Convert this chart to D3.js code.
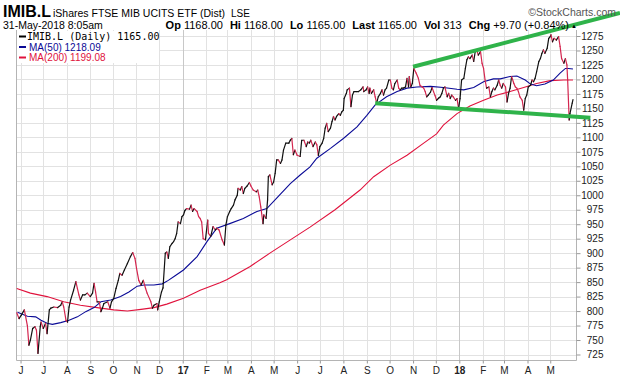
<!DOCTYPE html>
<html>
<head>
<meta charset="utf-8">
<script src="https://cdn.jsdelivr.net/npm/d3@7"></script>
<style>
  body { margin: 0; background: #fff; }
  svg { display: block; }
</style>
</head>
<body>
<svg id="chart" width="620" height="376"></svg>
<script>
// days are counted from startDate
var startDate = "2016-05-26";
var endDate = "2018-06-04";

// [day, close]
var closes = [
  [1,797],[4,787],[7,793],[11,802],[15,775],[17,741],[19,750],[22,770],[25,773],[27,767],
  [29,727],[32,773],[33,781],[36,770],[39,779],[41,761],[44,802],[46,805],[50,807],[55,806],
  [59,810],[61,816],[63,807],[66,784],[68,781],[70,807],[72,819],[76,836],[79,851],[81,839],
  [83,828],[85,819],[88,828],[91,828],[94,831],[98,825],[101,831],[103,848],[105,833],[107,816],
  [110,816],[112,799],[114,805],[116,813],[121,816],[124,805],[126,816],[129,822],[132,839],[135,853],
  [137,865],[140,862],[143,871],[147,882],[151,894],[154,901],[157,891],[159,874],[162,853],[165,845],
  [168,853],[171,839],[173,831],[178,816],[180,805],[182,810],[186,813],[187,802],[189,816],[192,833],
  [194,840],[197,900],[199,902],[201,891],[203,911],[206,917],[208,920],[210,925],[212,934],[214,954],
  [217,951],[219,963],[221,966],[223,974],[225,977],[229,976],[231,983],[233,972],[235,977],[239,972],
  [241,963],[243,960],[245,954],[247,925],[250,923],[253,957],[254,934],[257,929],[260,946],[263,940],
  [265,943],[268,940],[272,923],[275,914],[277,949],[279,963],[282,972],[284,977],[287,983],[289,992],
  [292,1000],[293,1012],[296,1009],[298,1015],[300,1003],[302,1012],[305,1016],[308,1022],[310,1016],[313,1009],
  [317,1006],[319,1009],[321,997],[323,980],[326,951],[327,966],[330,960],[332,992],[333,1032],[335,1035],
  [338,1018],[340,1023],[342,1038],[344,1061],[346,1061],[349,1055],[351,1061],[353,1078],[356,1090],[360,1090],
  [362,1095],[364,1098],[366,1070],[368,1078],[371,1069],[375,1067],[377,1095],[380,1095],[383,1084],[385,1092],
  [387,1090],[389,1095],[392,1084],[395,1092],[397,1087],[399,1069],[401,1084],[404,1090],[406,1098],[408,1116],
  [410,1124],[412,1110],[415,1116],[417,1127],[419,1136],[421,1130],[423,1136],[426,1141],[428,1138],[430,1144],
  [432,1147],[433,1167],[436,1176],[437,1182],[440,1185],[442,1153],[444,1173],[446,1179],[449,1179],[452,1179],
  [455,1182],[458,1187],[459,1179],[462,1182],[464,1187],[466,1176],[467,1185],[469,1176],[472,1182],[474,1170],
  [476,1159],[478,1170],[481,1176],[483,1182],[485,1173],[487,1182],[489,1185],[492,1199],[494,1199],[496,1185],
  [498,1182],[500,1193],[503,1199],[505,1185],[507,1182],[509,1185],[511,1185],[514,1187],[516,1202],[518,1187],
  [519,1205],[521,1187],[523,1193],[525,1219],[528,1211],[531,1202],[533,1190],[536,1187],[538,1185],[540,1179],
  [542,1170],[544,1173],[547,1178],[549,1186],[551,1179],[553,1172],[555,1164],[558,1168],[560,1170],[562,1176],
  [564,1185],[566,1187],[569,1170],[571,1176],[573,1167],[575,1173],[577,1170],[580,1164],[582,1167],[584,1150],
  [586,1167],[588,1199],[591,1202],[593,1219],[595,1234],[597,1239],[599,1236],[602,1242],[604,1231],[606,1248],
  [608,1251],[610,1242],[613,1248],[615,1228],[617,1219],[619,1199],[621,1185],[624,1187],[626,1170],[628,1179],
  [630,1185],[632,1182],[635,1190],[637,1199],[639,1190],[641,1185],[643,1193],[646,1187],[648,1161],[650,1176],
  [652,1185],[654,1205],[657,1193],[659,1187],[661,1185],[663,1179],[665,1170],[668,1164],[670,1147],[672,1167],
  [674,1173],[676,1187],[679,1190],[681,1199],[683,1196],[685,1202],[687,1213],[690,1231],[692,1236],[694,1245],
  [696,1251],[698,1245],[701,1254],[703,1271],[705,1274],[706,1277],[708,1265],[710,1271],[713,1268],[716,1274],
  [718,1257],[720,1236],[723,1228],[725,1236],[727,1225],[728,1199],[730,1130],[731,1141],[734,1159],[735,1165]
];

var ma50 = [
  [2,798],[15,791],[26,790],[33,784],[41,779],[48,777],[59,780],[70,784],[81,790],[92,799],
  [103,806],[112,816],[125,819],[138,825],[149,833],[160,843],[169,845],[182,845],[193,847],[201,853],
  [209,860],[221,871],[239,894],[252,920],[265,943],[282,951],[300,960],[318,972],[331,977],[344,995],
  [362,1020],[375,1035],[388,1049],[397,1064],[415,1081],[432,1098],[450,1118],[463,1138],[474,1156],[489,1170],
  [503,1179],[516,1185],[529,1187],[547,1188],[564,1186],[582,1183],[591,1182],[604,1186],[617,1196],[630,1201],
  [639,1201],[652,1205],[661,1206],[672,1199],[679,1192],[687,1189],[698,1192],[709,1199],[718,1211],[725,1219],
  [729,1219],[735,1218]
];

var ma200 = [
  [1,839],[19,831],[41,825],[63,816],[85,810],[107,806],[129,802],[147,800],[165,803],[182,806],
  [199,812],[221,822],[243,836],[269,849],[278,854],[309,877],[335,900],[362,923],[388,945],[421,975],
  [454,1009],[472,1032],[494,1052],[516,1069],[538,1090],[555,1106],[564,1121],[582,1141],[599,1154],[617,1164],
  [635,1173],[652,1179],[670,1186],[687,1193],[705,1198],[723,1199],[735,1199]
];

var trendUpper = [[524,1222],[797,1315]];
var trendLower = [[474,1159],[758,1134]];

var yTicks = [725,750,775,800,825,850,875,900,925,950,975,1000,1025,1050,1075,1100,1125,1150,1175,1200,1225,1250,1275];
var monthTicks = ["2016-06-01","2016-07-01","2016-08-01","2016-09-01","2016-10-01","2016-11-01","2016-12-01",
  "2017-01-01","2017-02-01","2017-03-01","2017-04-01","2017-05-01","2017-06-01","2017-07-01","2017-08-01",
  "2017-09-01","2017-10-01","2017-11-01","2017-12-01","2018-01-01","2018-02-01","2018-03-01","2018-04-01","2018-05-01"];
var monthLabels = ["J","J","A","S","O","N","D","17","F","M","A","M","J","J","A","S","O","N","D","18","F","M","A","M"];

var legendRows = [
  {label: "IMIB.L (Daily) 1165.00", color: "#000"},
  {label: "MA(50) 1218.09", color: "#0a0a96"},
  {label: "MA(200) 1199.08", color: "#e0123c"}
];

var quote = [["Op", "1168.00"], ["Hi", "1168.00"], ["Lo", "1165.00"], ["Last", "1165.00"],
  ["Vol", "313"], ["Chg", "+9.70 (+0.84%)"]];

var sans = "'Liberation Sans', Arial, sans-serif";
var mono = "'DejaVu Sans Mono', monospace";
var plot = {left: 16, right: 576, top: 30, bottom: 360};

var parse = d3.timeParse("%Y-%m-%d");
var t0 = parse(startDate);
var toDate = function (day) { return d3.timeDay.offset(t0, day); };

var xScale = d3.scaleTime()
  .domain([t0, parse(endDate)])
  .range([plot.left, plot.right]);
var yScale = d3.scaleLinear()
  .domain([725, 1275])
  .range([354.5, 36]);

var svg = d3.select("#chart").style("font-family", sans);

// grid
var grid = svg.append("g").attr("class", "grid");
grid.selectAll(".hgrid").data(yTicks).enter().append("line")
  .attr("class", "hgrid")
  .attr("x1", plot.left).attr("x2", plot.right)
  .attr("y1", function (d) { return Math.round(yScale(d)) + 0.5; })
  .attr("y2", function (d) { return Math.round(yScale(d)) + 0.5; })
  .attr("stroke", "#e2e2e2");
grid.selectAll(".vgrid").data(monthTicks).enter().append("line")
  .attr("class", "vgrid")
  .attr("x1", function (d) { return Math.round(xScale(parse(d))) + 0.5; })
  .attr("x2", function (d) { return Math.round(xScale(parse(d))) + 0.5; })
  .attr("y1", plot.top).attr("y2", plot.bottom)
  .attr("stroke", function (d, i) { return monthLabels[i].length > 1 ? "#c8c8c8" : "#e2e2e2"; });

// frame
svg.append("path")
  .attr("d", "M" + (plot.left + 0.5) + "," + plot.top + "V" + (plot.bottom + 0.5) +
    "H" + (plot.right + 0.5) + "V" + plot.top)
  .attr("fill", "none")
  .attr("stroke", "#b4b4b4");

// y axis on the right
var yAxis = d3.axisRight(yScale)
  .tickValues(yTicks)
  .tickFormat(d3.format("d"))
  .tickSize(4);
var yg = svg.append("g")
  .attr("transform", "translate(" + (plot.right + 0.5) + ",0)")
  .call(yAxis);
yg.select(".domain").remove();
yg.selectAll(".tick line").attr("stroke", "#999");
yg.selectAll(".tick text")
  .attr("x", 27).attr("text-anchor", "end")
  .style("font-family", sans).style("font-size", "10px")
  .attr("fill", "#222");

// x axis
var xAxis = d3.axisBottom(xScale)
  .tickValues(monthTicks.map(parse))
  .tickSize(3).tickPadding(3)
  .tickFormat(function (d, i) { return monthLabels[i]; });
var xg = svg.append("g")
  .attr("transform", "translate(0," + (plot.bottom + 0.5) + ")")
  .call(xAxis);
xg.select(".domain").remove();
xg.selectAll(".tick line").attr("stroke", "#999");
xg.selectAll(".tick text")
  .style("font-family", sans).style("font-size", "10px")
  .attr("fill", "#222")
  .attr("font-weight", function (d, i) { return monthLabels[i].length > 1 ? "bold" : "normal"; });

// moving averages
var line = d3.line()
  .x(function (d) { return xScale(toDate(d[0])); })
  .y(function (d) { return yScale(d[1]); });
svg.append("path").datum(ma200)
  .attr("d", line).attr("fill", "none")
  .attr("stroke", legendRows[2].color).attr("stroke-width", 1.1);
svg.append("path").datum(ma50)
  .attr("d", line).attr("fill", "none")
  .attr("stroke", legendRows[1].color).attr("stroke-width", 1.1);

// price line, black when rising and red when falling
svg.append("g").selectAll("line").data(d3.pairs(closes)).enter().append("line")
  .attr("x1", function (d) { return xScale(toDate(d[0][0])); })
  .attr("y1", function (d) { return yScale(d[0][1]); })
  .attr("x2", function (d) { return xScale(toDate(d[1][0])); })
  .attr("y2", function (d) { return yScale(d[1][1]); })
  .attr("stroke", function (d) { return d[1][1] >= d[0][1] ? "#111" : "#d4264f"; })
  .attr("stroke-width", 1.2)
  .attr("stroke-linecap", "round");

// legend
var lg = svg.append("g");
lg.append("rect")
  .attr("x", plot.left + 1).attr("y", plot.top + 1)
  .attr("width", 142).attr("height", 32)
  .attr("fill", "#fff");
var rows = lg.selectAll(".row").data(legendRows).enter().append("g")
  .attr("transform", function (d, i) { return "translate(" + 19 + "," + (40 + i * 10.5) + ")"; });
rows.append("line")
  .attr("x1", 0).attr("x2", 7).attr("y1", -3.5).attr("y2", -3.5)
  .attr("stroke", function (d) { return d.color; }).attr("stroke-width", 2);
rows.append("text")
  .attr("x", function (d, i) { return i === 0 ? 8 : 10; })
  .style("font-family", function (d, i) { return i === 0 ? mono : sans; })
  .style("font-size", "10px")
  .attr("fill", function (d) { return d.color; })
  .text(function (d) { return d.label; });

// trend lines
svg.selectAll(".trend").data([trendUpper, trendLower]).enter().append("path")
  .attr("class", "trend")
  .attr("d", line)
  .attr("fill", "none")
  .attr("stroke", "#2fb34a")
  .attr("stroke-width", 4);

// header
svg.append("text").attr("x", 3).attr("y", 17)
  .style("font-size", "16px").attr("font-weight", "bold").text("IMIB.L");
svg.append("text").attr("x", 53).attr("y", 17)
  .style("font-size", "10.5px").text("iShares FTSE MIB UCITS ETF (Dist)");
svg.append("text").attr("x", 231).attr("y", 17)
  .style("font-size", "10px").text("LSE");
svg.append("text").attr("x", 616).attr("y", 16)
  .style("font-size", "10.5px").attr("text-anchor", "end").attr("fill", "#555")
  .text("\u00a9StockCharts.com");
svg.append("text").attr("x", 3).attr("y", 29)
  .style("font-size", "10.5px").text("31-May-2018 8:05am");

var qt = svg.append("text").attr("x", 569).attr("y", 29)
  .style("font-size", "11px").attr("text-anchor", "end");
quote.forEach(function (q, i) {
  qt.append("tspan").attr("font-weight", "bold").attr("dx", i ? 7 : 0).text(q[0]);
  qt.append("tspan").text(" " + q[1]);
});
svg.append("text").attr("x", 571).attr("y", 28)
  .style("font-size", "6px").text("\u25b2");
</script>
</body>
</html>
